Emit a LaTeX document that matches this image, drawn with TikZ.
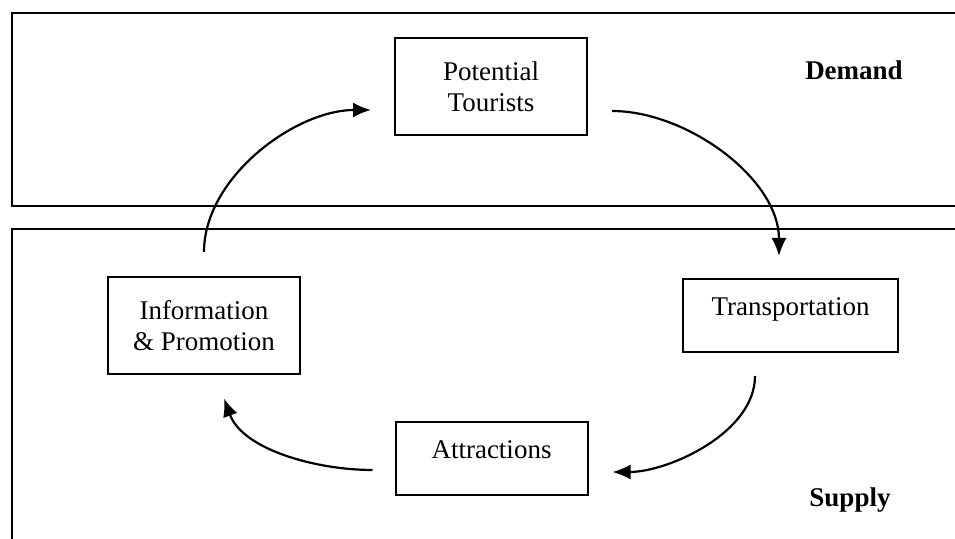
\documentclass[tikz,border=0pt]{standalone}
\usepackage{fontspec}
\setmainfont{Liberation Serif}
\usetikzlibrary{arrows.meta}

\begin{document}
\begin{tikzpicture}[x=0.5pt,y=-0.5pt,
  stage/.style={draw,line width=1pt,minimum width=96pt,minimum height=48.5pt,align=center,font=\fontsize{13.5}{15.5}\selectfont},
  flow/.style={line width=1.1pt,-{Latex[length=9pt,width=7.5pt]}},
  frame/.style={line width=0.8pt}]
          \useasboundingbox (0,0) rectangle (955,539);
          \draw[frame] (955,13) -- (12,13) -- (12,206) -- (955,206);
          \draw[frame] (955,229) -- (12,229) -- (12,539);

          \node[stage] (tourists) at (491,86.5) {Potential\\Tourists};
          \node[stage] (info) at (204,325.5) {Information\\\& Promotion};
          \node[stage,minimum width=107.5pt,minimum height=36.5pt,text depth=9pt] (transport) at (790.5,315.5) {Transportation};
          \node[stage,minimum height=36.5pt,text depth=9pt] (attract) at (491.5,458.5) {Attractions};
          \node[font=\fontsize{13.5}{15.5}\selectfont\bfseries] (demand) at (854,70) {Demand};
          \node[font=\fontsize{13.5}{15.5}\selectfont\bfseries] (supply) at (850,500) {Supply};

          \draw[flow,shorten <=12pt,shorten >=11.5pt] (info.north) to[out=90,in=180] ([yshift=-11.75pt]tourists.west);
          \draw[flow,shorten <=12pt,shorten >=11pt] ([yshift=-12.25pt]tourists.east) to[out=0,in=90] ([xshift=-5.75pt]transport.north);
          \draw[flow,shorten <=11.5pt,shorten >=12pt] ([xshift=-17.75pt]transport.south) to[out=-90,in=0] ([yshift=-6.75pt]attract.east);
          \draw[flow,shorten <=11pt,shorten >=12.5pt] ([yshift=-5.75pt]attract.west) to[out=180,in=-70] ([xshift=5.75pt]info.south);
\end{tikzpicture}
\end{document}
